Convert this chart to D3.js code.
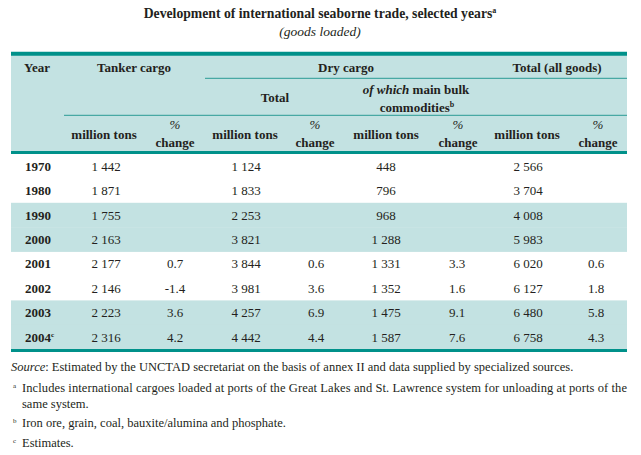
<!DOCTYPE html>
<html>
<head>
<meta charset="utf-8">
<script src="https://cdn.jsdelivr.net/npm/d3@7"></script>
<style>
  body { margin: 0; background: #fff; }
  svg { display: block; }
</style>
</head>
<body>
<svg id="view" width="641" height="455"></svg>
<script>
// DATA
var years = ["1970", "1980", "1990", "2000", "2001", "2002", "2003", "2004"];
var tankerTons = [1442, 1871, 1755, 2163, 2177, 2146, 2223, 2316];
var tankerPct = [null, null, null, null, 0.7, -1.4, 3.6, 4.2];
var dryTons = [1124, 1833, 2253, 3821, 3844, 3981, 4257, 4442];
var dryPct = [null, null, null, null, 0.6, 3.6, 6.9, 4.4];
var bulkTons = [448, 796, 968, 1288, 1331, 1352, 1475, 1587];
var bulkPct = [null, null, null, null, 3.3, 1.6, 9.1, 7.6];
var totalTons = [2566, 3704, 4008, 5983, 6020, 6127, 6480, 6758];
var totalPct = [null, null, null, null, 0.6, 1.8, 5.8, 4.3];
var shadedYears = ["1990", "2000", "2003", "2004"];

// CONSTANTS
var DARK = "#00918a";
var LIGHT = "#c3e2e2";
var LINE = "#2a9b95";
var TEXT = "#231f20";
var FONT = "'Liberation Serif', 'Times New Roman', serif";
var LEFT = 11;
var RIGHT = 627;

var locale = d3.formatLocale({
    decimal: ".",
    thousands: " ",
    grouping: [3],
    currency: ["", ""],
    minus: "-"
});
var fmtTons = locale.format(",d");
var fmtPct = locale.format(".1f");

var svg = d3.select("#view")
    .attr("font-family", FONT)
    .attr("fill", TEXT);

// title
var title = svg.append("text")
    .attr("x", 320)
    .attr("y", 18)
    .attr("text-anchor", "middle")
    .attr("font-size", 13.7)
    .attr("font-weight", "bold")
    ;
title.append("tspan").text("Development of international seaborne trade, selected years");
title.append("tspan").attr("font-size", 8).attr("dy", -5).text("a");

svg.append("text")
    .attr("x", 320)
    .attr("y", 36)
    .attr("text-anchor", "middle")
    .attr("font-size", 13.5)
    .attr("font-style", "italic")
    .text("(goods loaded)")
    ;

// rows
var y = d3.scaleBand()
    .domain(years)
    .range([154, 349.2])
    ;

// column centres
var cols = ["tankerTons", "tankerPct", "dryTons", "dryPct", "bulkTons", "bulkPct", "totalTons", "totalPct"];
var x = d3.scaleOrdinal()
    .domain(cols)
    .range([106, 175, 246, 316, 386, 457, 528, 596])
    ;

// header background
svg.append("rect")
    .attr("x", LEFT)
    .attr("y", 55)
    .attr("width", RIGHT - LEFT)
    .attr("height", 97)
    .attr("fill", LIGHT)
    ;

// shaded body rows
svg.append("g").selectAll("rect")
    .data(shadedYears)
    .join("rect")
    .attr("x", LEFT)
    .attr("y", function(d) { return y(d); })
    .attr("width", RIGHT - LEFT)
    .attr("height", y.bandwidth() + 0.3)
    .attr("fill", LIGHT)
    ;

// rules
function rule(x1, x2, yy, w, color) {
    svg.append("line")
        .attr("x1", x1)
        .attr("x2", x2)
        .attr("y1", yy)
        .attr("y2", yy)
        .attr("stroke", color)
        .attr("stroke-width", w)
        ;
}
rule(LEFT, RIGHT, 53.7, 4, DARK);
rule(205, RIGHT, 78.3, 1, LINE);
rule(64, RIGHT, 115.3, 1, LINE);
rule(LEFT, RIGHT, 152.5, 3, DARK);
rule(LEFT, RIGHT, y.range()[1] + 1.3, 3, DARK);

// header texts
function headText(xx, yy, str, opts) {
    opts = opts || {};
    var t = svg.append("text")
        .attr("x", xx)
        .attr("y", yy)
        .attr("text-anchor", opts.anchor || "middle")
        .attr("font-size", 13)
        .attr("font-weight", "bold")
        ;
    t.text(str);
    return t;
}
headText(24, 72, "Year", {anchor: "start"});
headText(134, 72, "Tanker cargo");
headText(346, 72, "Dry cargo");
headText(557, 72, "Total (all goods)");
headText(275, 102, "Total");

var ofWhich = svg.append("text")
    .attr("x", 416)
    .attr("y", 94)
    .attr("text-anchor", "middle")
    .attr("font-size", 13)
    .attr("font-weight", "bold")
    ;
ofWhich.append("tspan").attr("font-style", "italic").text("of which");
ofWhich.append("tspan").text(" main bulk");
var comm = svg.append("text")
    .attr("x", 417)
    .attr("y", 112)
    .attr("text-anchor", "middle")
    .attr("font-size", 13)
    .attr("font-weight", "bold")
    ;
comm.append("tspan").text("commodities");
comm.append("tspan").attr("font-size", 8).attr("dy", -5).text("b");

var headTons = [104, 245, 386, 527];
var headPct = [175, 315, 458, 598];
headTons.forEach(function(cx) {
    headText(cx, 139, "million tons");
});
headPct.forEach(function(cx) {
    headText(cx, 129, "%").attr("font-style", "italic").attr("font-weight", "normal");
    headText(cx, 147, "change");
});

// body
var series = {
    tankerTons: tankerTons, tankerPct: tankerPct,
    dryTons: dryTons, dryPct: dryPct,
    bulkTons: bulkTons, bulkPct: bulkPct,
    totalTons: totalTons, totalPct: totalPct
};

var rows = svg.append("g").selectAll("g")
    .data(years)
    .join("g")
    .attr("transform", function(d) {
        return "translate(0," + (y(d) + y.bandwidth() / 2 + 4.5) + ")";
    })
    ;

rows.each(function(yr, i) {
    var row = d3.select(this);
    var t = row.append("text")
        .attr("x", 25)
        .attr("font-size", 13)
        .attr("font-weight", "bold")
        ;
    t.append("tspan").text(yr);
    if (yr === "2004") {
        t.append("tspan").attr("font-size", 7).attr("dy", -5).text("c");
    }
    cols.forEach(function(c) {
        var v = series[c][i];
        if (v === null) return;
        row.append("text")
            .attr("x", x(c))
            .attr("text-anchor", "middle")
            .attr("font-size", 13)
            .text(/Pct$/.test(c) ? fmtPct(v) : fmtTons(v))
            ;
    });
});

// footnotes
var notes = svg.append("g").attr("font-size", 12.5);
var src = notes.append("text").attr("x", 11).attr("y", 371);
src.append("tspan").attr("font-style", "italic").text("Source");
src.append("tspan").text(":  Estimated by the UNCTAD secretariat on the basis of annex II and data supplied by specialized sources.");

function note(letter, yy, str, justify) {
    notes.append("text")
        .attr("x", 13)
        .attr("y", yy - 4)
        .attr("font-size", 7)
        .text(letter)
        ;
    var t = notes.append("text")
        .attr("x", 22)
        .attr("y", yy)
        .text(str)
        ;
    if (justify) {
        t.attr("textLength", RIGHT - 22).attr("lengthAdjust", "spacing");
    }
}
note("a", 392, "Includes international cargoes loaded at ports of the Great Lakes and St. Lawrence system for unloading at ports of the", true);
notes.append("text").attr("x", 22).attr("y", 408).text("same system.");
note("b", 427, "Iron ore, grain, coal, bauxite/alumina and phosphate.");
note("c", 447, "Estimates.");
</script>
</body>
</html>
